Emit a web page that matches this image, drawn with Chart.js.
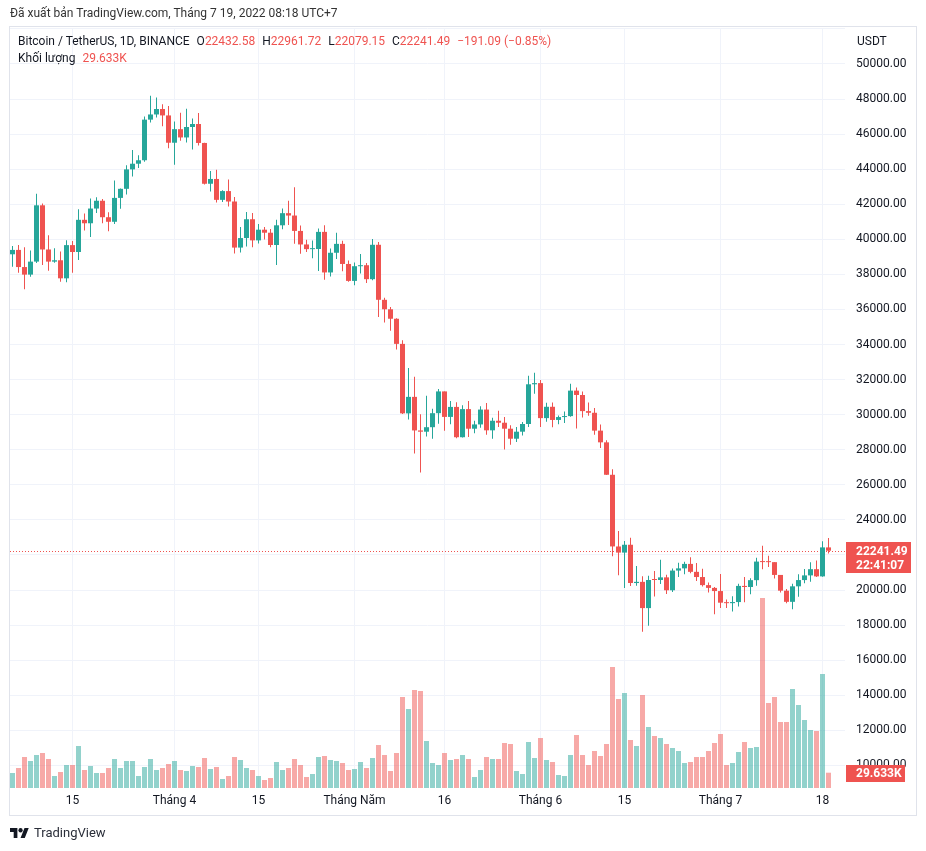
<!DOCTYPE html>
<html lang="vi">
<head>
<meta charset="utf-8">
<title>Bitcoin / TetherUS, 1D, BINANCE</title>
<script src="https://cdn.jsdelivr.net/npm/chart.js@4.4.1/dist/chart.umd.min.js"></script>
<style>
  html, body { margin: 0; padding: 0; background: #fff; }
  body { width: 926px; height: 851px; position: relative; overflow: hidden;
         font-family: Roboto, "Liberation Sans", sans-serif; color: #131722; }
  #c { position: absolute; left: 0; top: 0; }
  #frame { position: absolute; left: 9px; top: 26px; width: 908px; height: 790px;
           border: 1px solid #e0e3eb; box-sizing: border-box; pointer-events: none; }
  .txt { position: absolute; font-size: 12px; line-height: 14px; white-space: nowrap; z-index: 2; }
  .red { color: #ef5350; }
  .gap { margin-left: 7px; }
  #pub { left: 10px; top: 6px; color: #333; }
  #leg1 { left: 18px; top: 34px; }
  #leg2 { left: 18px; top: 51px; }
  #usdt { left: 857px; top: 34px; }
  #brand { left: 10px; top: 826px; font-size: 13px; line-height: 14px; display: flex; align-items: center; color: #2a2e39; }
  #brand svg { margin-right: 5px; }
</style>
</head>
<body>
<canvas id="c" width="926" height="851"></canvas>
<div id="frame"></div>
<div class="txt" id="pub">Đã xuất bản TradingView.com, Tháng 7 19, 2022 08:18 UTC+7</div>
<div class="txt" id="leg1"></div>
<div class="txt" id="leg2"></div>
<div class="txt" id="usdt">USDT</div>
<div class="txt" id="brand">
  <svg width="19" height="10" viewBox="0 4 36 18" preserveAspectRatio="none">
    <path d="M14 22H7V11H0V4h14v18zM28 22h-8l7.5-18h8L28 22z" fill="#131722"/>
    <circle cx="20" cy="8" r="4" fill="#131722"/>
  </svg>TradingView
</div>
<script>
// daily candles, first day 2022-03-05
const startDate = '2022-03-05';

const opens = [
  39148, 39398, 38420, 37989, 38731, 41942, 39422, 38729, 38807, 37777, 39672, 39280, 41114, 40917,
  41757, 42201, 41262, 41002, 42364, 42882, 43991, 44313, 44511, 46827, 47122, 47434, 47067,
  45510, 46283, 45811, 46407, 46580, 45497, 43170, 43444, 42252, 42753, 42158, 39530, 40074, 41147,
  39942, 40551, 40378, 39678, 40801, 41493, 41358, 40480, 39709, 39441, 39450, 40426, 38112, 39235,
  39742, 38596,
  37630, 38468, 38525, 37728, 39690, 36552, 36013, 35472, 34039, 30075, 31017, 29103, 29030, 29287,
  30086, 31328, 29874, 30444, 28715, 30319, 29201, 29445, 30293, 29109, 29655, 29542, 29201, 28630,
  29031, 29468, 31734,
  31801, 29805, 30452, 29700, 29865, 29920, 31373, 31125, 30204, 30110, 29091, 28424, 26574, 22485,
  22136, 22583, 20400, 20468, 18970, 20574, 20573, 20724, 19988, 21110, 21237, 21491, 21038, 20742,
  20281, 20123,
  19942, 19279, 19252, 19315, 20236, 20175, 20564, 21624, 21594, 21591, 20862, 19963, 19328, 20212,
  20569, 20836, 21190, 20779, 22432.58
];
const highs = [
  39620, 39680, 39547, 39362, 42594, 42039, 40236, 39486, 39310, 39947, 39906, 41718, 41478, 42325,
  42400, 42296, 41544, 43361, 42893, 44220, 45094, 44792, 46999, 48190, 48096, 47700, 47600,
  46720, 47213, 47444, 46890, 47200, 45507, 43900, 43970, 42800, 43410, 42414, 40699, 41561, 41500,
  40870, 40709, 40595, 41116, 41760, 42199, 42976, 40795, 39980, 39940, 40617, 40797, 39474, 40372,
  39925, 38795,
  38675, 39167, 38651, 40023, 39845, 36675, 36146, 35500, 34243, 32658, 32162, 30032, 31083, 30343,
  31460, 31328, 30788, 30709, 30545, 30777, 29656, 30487, 30670, 29830, 30223, 29872, 29397, 29300,
  29587, 32222, 32399,
  31982, 30675, 30689, 29950, 30189, 31765, 31550, 31327, 30700, 30383, 29440, 28544, 26895, 23363,
  22800, 22980, 21365, 20792, 20815, 21090, 21723, 20871, 21233, 21558, 21614, 21868, 21540, 21212,
  20432, 20179,
  20918, 19467, 19647, 20354, 20750, 20675, 21838, 22527, 21954, 21591, 20862, 20059, 20366, 20900,
  21200, 21588, 21684, 22777, 22961.72
];
const lows = [
  38440, 38090, 37155, 37867, 38656, 38539, 38213, 38660, 37578, 37555, 38098, 38828, 40500, 40135,
  41499, 40911, 40467, 40875, 41751, 42560, 43579, 44071, 44422, 46664, 46950, 46445, 45200,
  44255, 45620, 45530, 45118, 45353, 43121, 42727, 42107, 42125, 41868, 39200, 39254, 39588, 39551,
  39766, 39991, 39546, 38536, 40571, 40820, 39751, 39177, 39285, 38929, 38200, 37702, 37881, 38881,
  38175, 37578,
  37386, 38052, 37517, 37670, 35571, 35258, 34785, 33713, 30033, 29730, 27785, 26700, 28751, 28630,
  29480, 29088, 29460, 28654, 28693, 28730, 28947, 29255, 28852, 28629, 29294, 28019, 28282, 28450,
  28810, 29299, 31200,
  29301, 29594, 29282, 29450, 29522, 29880, 29218, 29844, 29944, 28850, 28099, 26560, 21925, 20846,
  20111, 20232, 20246, 17622, 17960, 19637, 20348, 19770, 19890, 20740, 20906, 20960, 20510, 20202,
  19854, 18626,
  18975, 18977, 18781, 19055, 19304, 19761, 20251, 21189, 21319, 20655, 19865, 19240, 18910, 19616,
  20385, 20478, 20750, 20762, 22079.15
];
const closes = [
  39397, 38420, 37988, 38730, 41941, 39422, 38730, 38807, 37777, 39671, 39280, 41114, 40917, 41757,
  42201, 41262, 41002, 42364, 42882, 43991, 44313, 44511, 46827, 47122, 47434, 47067, 45510,
  46283, 45811, 46407, 46580, 45497, 43170, 43444, 42252, 42753, 42158, 39530, 40074, 41147, 39942,
  40551, 40378, 39678, 40801, 41493, 41358, 40480, 39709, 39441, 39450, 40426, 38112, 39235, 39742,
  38596, 37630,
  38468, 38525, 37728, 39690, 36552, 36013, 35472, 34039, 30076, 31017, 29103, 29030, 29287, 30086,
  31328, 29874, 30444, 28715, 30319, 29201, 29445, 30293, 29109, 29655, 29542, 29201, 28630, 29031,
  29468, 31734, 31801,
  29805, 30452, 29700, 29865, 29920, 31373, 31125, 30204, 30110, 29091, 28424, 26574, 22487, 22136,
  22583, 20401, 20468, 18970, 20574, 20573, 20723, 19987, 21110, 21237, 21491, 21038, 20742, 20281,
  20123, 19942,
  19279, 19252, 19315, 20236, 20175, 20564, 21624, 21594, 21591, 20862, 19963, 19328, 20212, 20569,
  20836, 21190, 20779, 22432.58, 22241.49
];
// volume, thousand BTC
const volumes = [
  29.1, 38.7, 60.0, 52.3, 63.9, 67.8, 56.2, 23.2, 31.0, 44.6, 44.6, 81.4, 34.9, 42.6,
  29.1, 29.1, 38.7, 56.2, 38.7, 52.3, 52.3, 23.2, 40.7, 56.2, 34.9, 38.7, 46.5,
  52.3, 34.9, 32.9, 42.6, 40.7, 58.1, 36.8, 40.7, 17.4, 23.2, 60.0, 54.2, 38.7, 34.9,
  23.2, 15.5, 19.4, 50.4, 34.9, 38.7, 56.2, 44.6, 21.3, 27.1, 60.0, 62.0, 54.2, 52.3,
  48.4, 34.9,
  36.8, 50.4, 38.7, 58.1, 83.3, 63.9, 32.9, 67.8, 176.3, 153.0, 189.8, 187.9, 91.0, 48.4,
  44.6, 67.8, 54.2, 56.2, 63.9, 56.2, 21.3, 34.9, 60.0, 56.2, 56.2, 87.2, 85.2, 32.9,
  27.1, 89.1, 58.1,
  96.9, 54.2, 50.4, 25.2, 23.2, 63.9, 102.7, 63.9, 44.6, 71.7, 62.0, 85.2, 234.4, 172.4,
  184.0, 93.0, 81.4, 180.1, 118.2, 100.7, 96.9, 85.2, 77.5, 71.7, 48.4, 50.4, 60.0, 60.0,
  71.7, 87.2,
  104.6, 44.6, 48.4, 69.7, 89.1, 77.5, 79.4, 368.0, 164.6, 176.3, 127.8, 127.8, 191.8, 160.8,
  131.7, 112.3, 110.4, 220.8, 29.633
];

const tickDates = ['2022-03-15', '2022-04-01', '2022-04-15', '2022-05-01', '2022-05-16',
                   '2022-06-01', '2022-06-15', '2022-07-01', '2022-07-18'];
const tickLabels = ['15', 'Tháng 4', '15', 'Tháng Năm', '16', 'Tháng 6', '15', 'Tháng 7', '18'];
const priceTicks = [10000, 12000, 14000, 16000, 18000, 20000, 22000, 24000, 26000, 28000, 30000,
                    32000, 34000, 36000, 38000, 40000, 42000, 44000, 46000, 48000, 50000, 52000];
const countdown = '22:41:07';

const UP = '#26a69a', DOWN = '#ef5350';
const UP_VOL = 'rgba(38,166,154,0.5)', DOWN_VOL = 'rgba(239,83,80,0.5)';
const gridColor = '#f0f3fa';
const textColor = '#131722';
const fontFamily = 'Roboto, "Liberation Sans", sans-serif';

const dates = [];
const d0 = new Date(startDate + 'T00:00:00Z');
for (let i = 0; i < closes.length; i++) {
  dates.push(new Date(d0.getTime() + i * 86400000).toISOString().slice(0, 10));
}

const n = closes.length - 1;
const isUp = closes.map((c, i) => c >= opens[i]);

// legend texts
const change = closes[n] - closes[n - 1];
const pct = change / closes[n - 1] * 100;
const fmtSigned = v => (v < 0 ? '\u2212' : '+') + Math.abs(v).toFixed(2);
document.getElementById('leg1').innerHTML =
  'Bitcoin / TetherUS, 1D, BINANCE' +
  '<span class="gap">O</span><span class="red">' + opens[n].toFixed(2) + '</span>' +
  '<span class="gap">H</span><span class="red">' + highs[n].toFixed(2) + '</span>' +
  '<span class="gap">L</span><span class="red">' + lows[n].toFixed(2) + '</span>' +
  '<span class="gap">C</span><span class="red">' + closes[n].toFixed(2) + '</span>' +
  '<span class="gap red">' + fmtSigned(change) + ' (' + fmtSigned(pct) + '%)</span>';
document.getElementById('leg2').innerHTML =
  'Khối lượng<span class="gap red">' + volumes[n].toFixed(3) + 'K</span>';

const lastPrice = {
  id: 'lastPrice',
  beforeDatasetsDraw(chart) {
    const { ctx, chartArea, scales } = chart;
    const py = Math.round(scales.y.getPixelForValue(closes[n])) + 0.5;
    ctx.save();
    ctx.strokeStyle = DOWN;
    ctx.lineWidth = 1;
    ctx.setLineDash([1, 2]);
    ctx.beginPath();
    ctx.moveTo(chartArea.left, py);
    ctx.lineTo(chartArea.right, py);
    ctx.stroke();
    ctx.restore();
  },
  afterDraw(chart) {
    const { ctx, chartArea, scales } = chart;
    const bx = chartArea.right + 1;
    const py = Math.round(scales.y.getPixelForValue(closes[n]));
    const vy = Math.round(scales.yv.getPixelForValue(volumes[n]));
    ctx.save();
    ctx.fillStyle = isUp[n] ? UP : DOWN;
    ctx.fillRect(bx, py - 9, 65, 31);
    ctx.fillRect(bx, vy - 8, 59, 17);
    ctx.fillStyle = '#fff';
    ctx.font = 'bold 12px ' + fontFamily;
    ctx.textAlign = 'left';
    ctx.textBaseline = 'middle';
    ctx.fillText(closes[n].toFixed(2), bx + 10, py + 1);
    ctx.fillText(countdown, bx + 10, py + 15);
    ctx.fillText(volumes[n].toFixed(3) + 'K', bx + 10, vy + 1);
    ctx.restore();
  }
};

new Chart(document.getElementById('c'), {
  type: 'bar',
  data: {
    datasets: [
      {
        label: 'body',
        order: 0,
        data: dates.map((d, i) => ({ x: i, y: [opens[i], closes[i]] })),
        backgroundColor: isUp.map(u => u ? UP : DOWN),
        barThickness: 5,
        minBarLength: 1,
        yAxisID: 'y'
      },
      {
        label: 'wick',
        order: 1,
        data: dates.map((d, i) => ({ x: i, y: [lows[i], highs[i]] })),
        backgroundColor: isUp.map(u => u ? UP : DOWN),
        barThickness: 1,
        yAxisID: 'y'
      },
      {
        label: 'volume',
        order: 2,
        data: dates.map((d, i) => ({ x: i, y: volumes[i] })),
        backgroundColor: isUp.map(u => u ? UP_VOL : DOWN_VOL),
        barThickness: 5,
        yAxisID: 'yv'
      }
    ]
  },
  options: {
    responsive: false,
    animation: false,
    devicePixelRatio: 1,
    datasets: { bar: { grouped: false, inflateAmount: 0, borderWidth: 0, borderRadius: 0 } },
    layout: { padding: { left: 10, right: 10, top: 28, bottom: 35 } },
    plugins: { legend: { display: false }, tooltip: { enabled: false } },
    scales: {
      x: {
        type: 'linear',
        bounds: 'data',
        min: -0.4167,
        max: 138.75,
        offset: false,
        grid: { color: gridColor, drawTicks: false, offset: false },
        border: { display: false },
        afterBuildTicks: s => { s.ticks = tickDates.map(t => ({ value: dates.indexOf(t) })); },
        afterFit: s => { s.height = 28; },
        ticks: {
          autoSkip: false, maxRotation: 0, padding: 6, color: textColor,
          font: { size: 12, family: fontFamily },
          callback: (v, i) => tickLabels[i]
        }
      },
      y: {
        position: 'right',
        bounds: 'data',
        min: 8711,
        max: 52053,
        grid: { color: gridColor, drawTicks: false },
        border: { display: false },
        afterBuildTicks: s => { s.ticks = priceTicks.map(v => ({ value: v })); },
        afterFit: s => { s.width = 71; },
        ticks: {
          autoSkip: false, padding: 11, color: textColor,
          font: { size: 12, family: fontFamily },
          callback: v => v > 50000 ? '' : v.toFixed(2)
        }
      },
      yv: { display: false, min: 0, max: 1472 }
    }
  },
  plugins: [lastPrice]
});
</script>
</body>
</html>
